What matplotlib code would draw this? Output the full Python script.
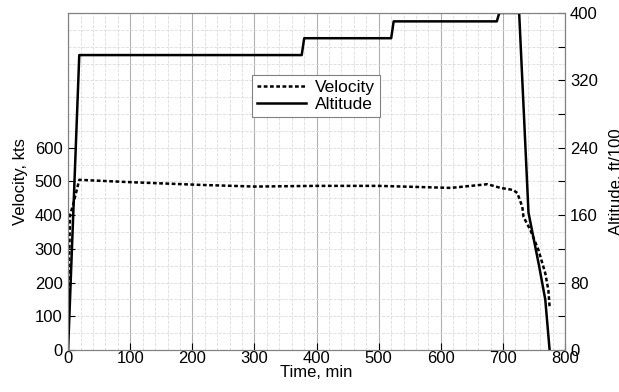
import numpy as np
import matplotlib.pyplot as plt
from matplotlib.ticker import MultipleLocator

plt.rcParams['font.family'] = ['Liberation Sans', 'DejaVu Sans']
plt.rcParams['font.size'] = 12

# flight profile
time_alt = [0, 18, 376, 380, 520, 524, 690, 694, 726, 741, 758, 768, 775]
altitude = [0, 350, 350, 370, 370, 390, 390, 400, 400, 163, 100, 60, 0]

time_vel = [0, 3, 8, 18, 100, 212, 300, 400, 500, 616, 675, 696, 716, 723,
            731, 733, 744, 757, 768, 773, 775]
velocity = [60, 400, 430, 505, 498, 490, 485, 487, 487, 481, 492, 481, 475, 466,
            425, 395, 356, 297, 228, 178, 128]

x_ticks = [0, 100, 200, 300, 400, 500, 600, 700, 800]
vel_ticks = [0, 100, 200, 300, 400, 500, 600]
alt_ticks = [0, 80, 160, 240, 320, 400]

fig = plt.figure(figsize=(6.19, 3.92), dpi=100)
ax = fig.add_axes([0.110, 0.107, 0.803, 0.860])
ax2 = ax.twinx()

ax.set_xlim(0, 800)
ax.set_ylim(0, 1000)
ax2.set_ylim(0, 400)

ax.plot(time_vel, velocity, color='black', linestyle=(0, (1.5, 1)), linewidth=1.8,
        label='Velocity')
ax2.plot(time_alt, altitude, color='black', linestyle='-', linewidth=1.8,
         label='Altitude')

# grid like matlab: major + minor
ax.set_xticks(x_ticks)
ax.set_yticks(vel_ticks)
ax.xaxis.set_minor_locator(MultipleLocator(20))
ax.yaxis.set_minor_locator(MultipleLocator(50))
ax.grid(which='major', axis='x', color='#b0b0b0', linestyle='-', linewidth=0.8)
ax.grid(which='minor', axis='x', color='#dcdcdc', linestyle='--', linewidth=0.6)
ax.grid(which='both', axis='y', color='#dcdcdc', linestyle='--', linewidth=0.6)
ax.set_axisbelow(True)

ax2.set_yticks(alt_ticks)
ax2.yaxis.set_minor_locator(MultipleLocator(40))

for a in (ax, ax2):
    a.tick_params(direction='in', length=5, width=0.8, colors='black', labelsize=12)
    a.tick_params(which='minor', length=0)
    for s in a.spines.values():
        s.set_color('#808080')
ax2.tick_params(which='minor', axis='y', direction='in', length=5, width=0.8)
ax.tick_params(axis='x', pad=1)
ax.tick_params(axis='y', pad=4)

ax.set_xlabel('Time, min', fontsize=12, labelpad=-1)
ax.set_ylabel('Velocity, kts', fontsize=12, labelpad=5)
ax2.set_ylabel('Altitude, ft/100', fontsize=12, labelpad=8)

h1, l1 = ax.get_legend_handles_labels()
h2, l2 = ax2.get_legend_handles_labels()
leg = ax2.legend(h1 + h2, l1 + l2, loc='upper left', bbox_to_anchor=(0.37, 0.816),
                 fancybox=False, framealpha=1, edgecolor='#808080', fontsize=12.5,
                 handlelength=2.8, handletextpad=0.5, borderpad=0.3, labelspacing=0.1,
                 borderaxespad=0)
leg.get_frame().set_linewidth(0.8)

fig.savefig('out.png', dpi=100)
